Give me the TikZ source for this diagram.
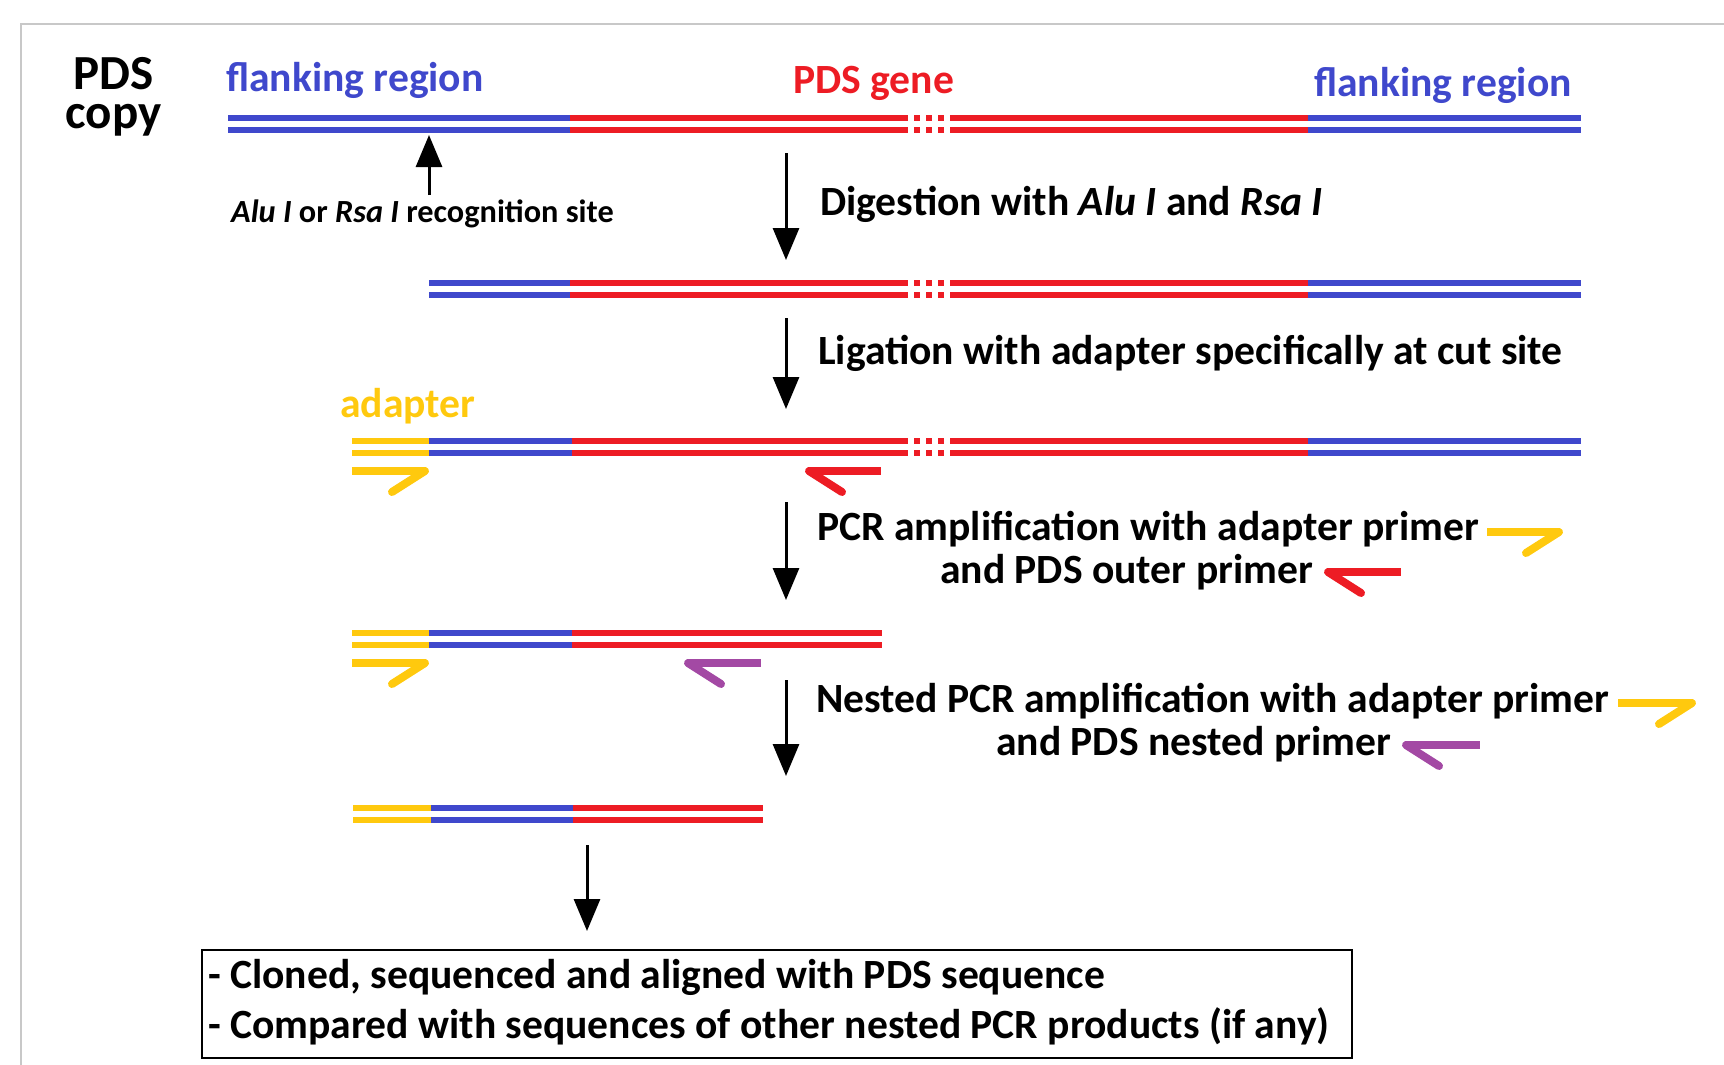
\documentclass[tikz,border=0pt]{standalone}
\usepackage{fontspec}
\setmainfont{Carlito}
\usetikzlibrary{arrows.meta}
\definecolor{dblue}{HTML}{3F48CC}
\definecolor{dred}{HTML}{ED1C24}
\definecolor{dyel}{HTML}{FFC90E}
\definecolor{dpur}{HTML}{A349A4}
\definecolor{frame}{HTML}{C8C8C8}
\newcommand\dsg[4]{\draw[strand,#1] (#2,#4) -- (#3,#4); \draw[strand,#1] (#2,#4+12) -- (#3,#4+12);}
\newcommand\gapdash[1]{\foreach \xx in {914,926,938}{\draw[strand,dred] (\xx,#1) -- (\xx+6,#1); \draw[strand,dred] (\xx,#1+12) -- (\xx+6,#1+12);}}
\newcommand\fwdprimer[4]{\draw[primer,#1] (#2,#4) -- (#3,#4); \draw[primer,#1,line cap=round] (#3-1,#4) -- ++(-33,21);}
\newcommand\revprimer[4]{\draw[primer,#1] (#2,#4) -- (#3,#4); \draw[primer,#1,line cap=round] (#2+1,#4) -- ++(33,21);}
\begin{document}
\begin{tikzpicture}[x=1pt,y=-1pt,
  strand/.style={line width=5.5pt},
  primer/.style={line width=8pt},
  flow/.style={line width=3pt,-{Triangle[width=26pt,length=32pt]}},
  lbl/.style={font=\fontsize{41.6}{46}\selectfont\bfseries, anchor=base west, inner sep=0pt},
  small/.style={font=\fontsize{32.3}{36}\selectfont\bfseries, anchor=base west, inner sep=0pt}]
\useasboundingbox (0,0) rectangle (1724,1065);
\draw[frame,line width=2pt] (21,1065) -- (21,24) -- (1724,24);

% labels top
\node[font=\fontsize{49}{39}\selectfont\bfseries, align=center, inner sep=0pt, anchor=base] (pds) at (113.5,128) {PDS\\copy};
\node[lbl,text=dblue] (flankL) at (226,92) {flanking region};
\node[lbl,text=dred] (gene) at (793,93) {PDS gene};
\node[lbl,text=dblue] (flankR) at (1314,96) {flanking region};

% row 1
\dsg{dblue}{228}{570}{118}
\dsg{dred}{570}{908}{118}
\gapdash{118}
\dsg{dred}{950}{1308}{118}
\dsg{dblue}{1308}{1581}{118}
\coordinate (siteS) at (429,195);
\coordinate (siteE) at (429,135);
\draw[flow] (siteS) -- (siteE);
\node[small] (site) at (231,222) {\itshape Alu I\upshape{} or \itshape Rsa I\upshape{} recognition site};

% step 1
\coordinate (a1s) at (786,153);
\coordinate (a1e) at (786,260);
\draw[flow] (a1s) -- (a1e);
\node[lbl] (dig) at (820,215) {Digestion with \itshape Alu I\upshape{} and \itshape Rsa I};

% row 2
\dsg{dblue}{429}{570}{283}
\dsg{dred}{570}{908}{283}
\gapdash{283}
\dsg{dred}{950}{1308}{283}
\dsg{dblue}{1308}{1581}{283}

% step 2
\coordinate (a2s) at (786,318);
\coordinate (a2e) at (786,409);
\draw[flow] (a2s) -- (a2e);
\node[lbl] (lig) at (818,364) {Ligation with adapter specifically at cut site};

% row 3
\node[lbl,text=dyel] (adap) at (340,417) {adapter};
\dsg{dyel}{352}{429}{441}
\dsg{dblue}{429}{572}{441}
\dsg{dred}{572}{908}{441}
\gapdash{441}
\dsg{dred}{950}{1308}{441}
\dsg{dblue}{1308}{1581}{441}
\fwdprimer{dyel}{352}{426}{471}
\revprimer{dred}{808}{881}{471}

% step 3
\coordinate (a3s) at (786,502);
\coordinate (a3e) at (786,600);
\draw[flow] (a3s) -- (a3e);
\node[lbl] (pcr1) at (817,540) {PCR amplification with adapter primer};
\node[lbl] (pcr2) at (940,583) {and PDS outer primer};
\fwdprimer{dyel}{1487}{1560}{532}
\revprimer{dred}{1327}{1401}{572}

% row 4
\dsg{dyel}{352}{429}{633}
\dsg{dblue}{429}{572}{633}
\dsg{dred}{572}{882}{633}
\fwdprimer{dyel}{352}{426}{663}
\revprimer{dpur}{687}{761}{663}

% step 4
\coordinate (a4s) at (786,680);
\coordinate (a4e) at (786,776);
\draw[flow] (a4s) -- (a4e);
\node[lbl] (nest1) at (816,712) {Nested PCR amplification with adapter primer};
\node[lbl] (nest2) at (996,755) {and PDS nested primer};
\fwdprimer{dyel}{1618}{1693}{703}
\revprimer{dpur}{1405}{1480}{745}

% row 5
\dsg{dyel}{353}{431}{808}
\dsg{dblue}{431}{573}{808}
\dsg{dred}{573}{763}{808}

% final
\coordinate (a5s) at (587,845);
\coordinate (a5e) at (587,931);
\draw[flow] (a5s) -- (a5e);
\node[draw,line width=1.5pt,anchor=north west,inner sep=0pt,minimum width=1150pt,minimum height=108pt] (box) at (201,949) {};
\node[lbl] (res1) at (208,988) {- Cloned, sequenced and aligned with PDS sequence};
\node[lbl] (res2) at (208,1038) {- Compared with sequences of other nested PCR products (if any)};
\end{tikzpicture}
\end{document}
